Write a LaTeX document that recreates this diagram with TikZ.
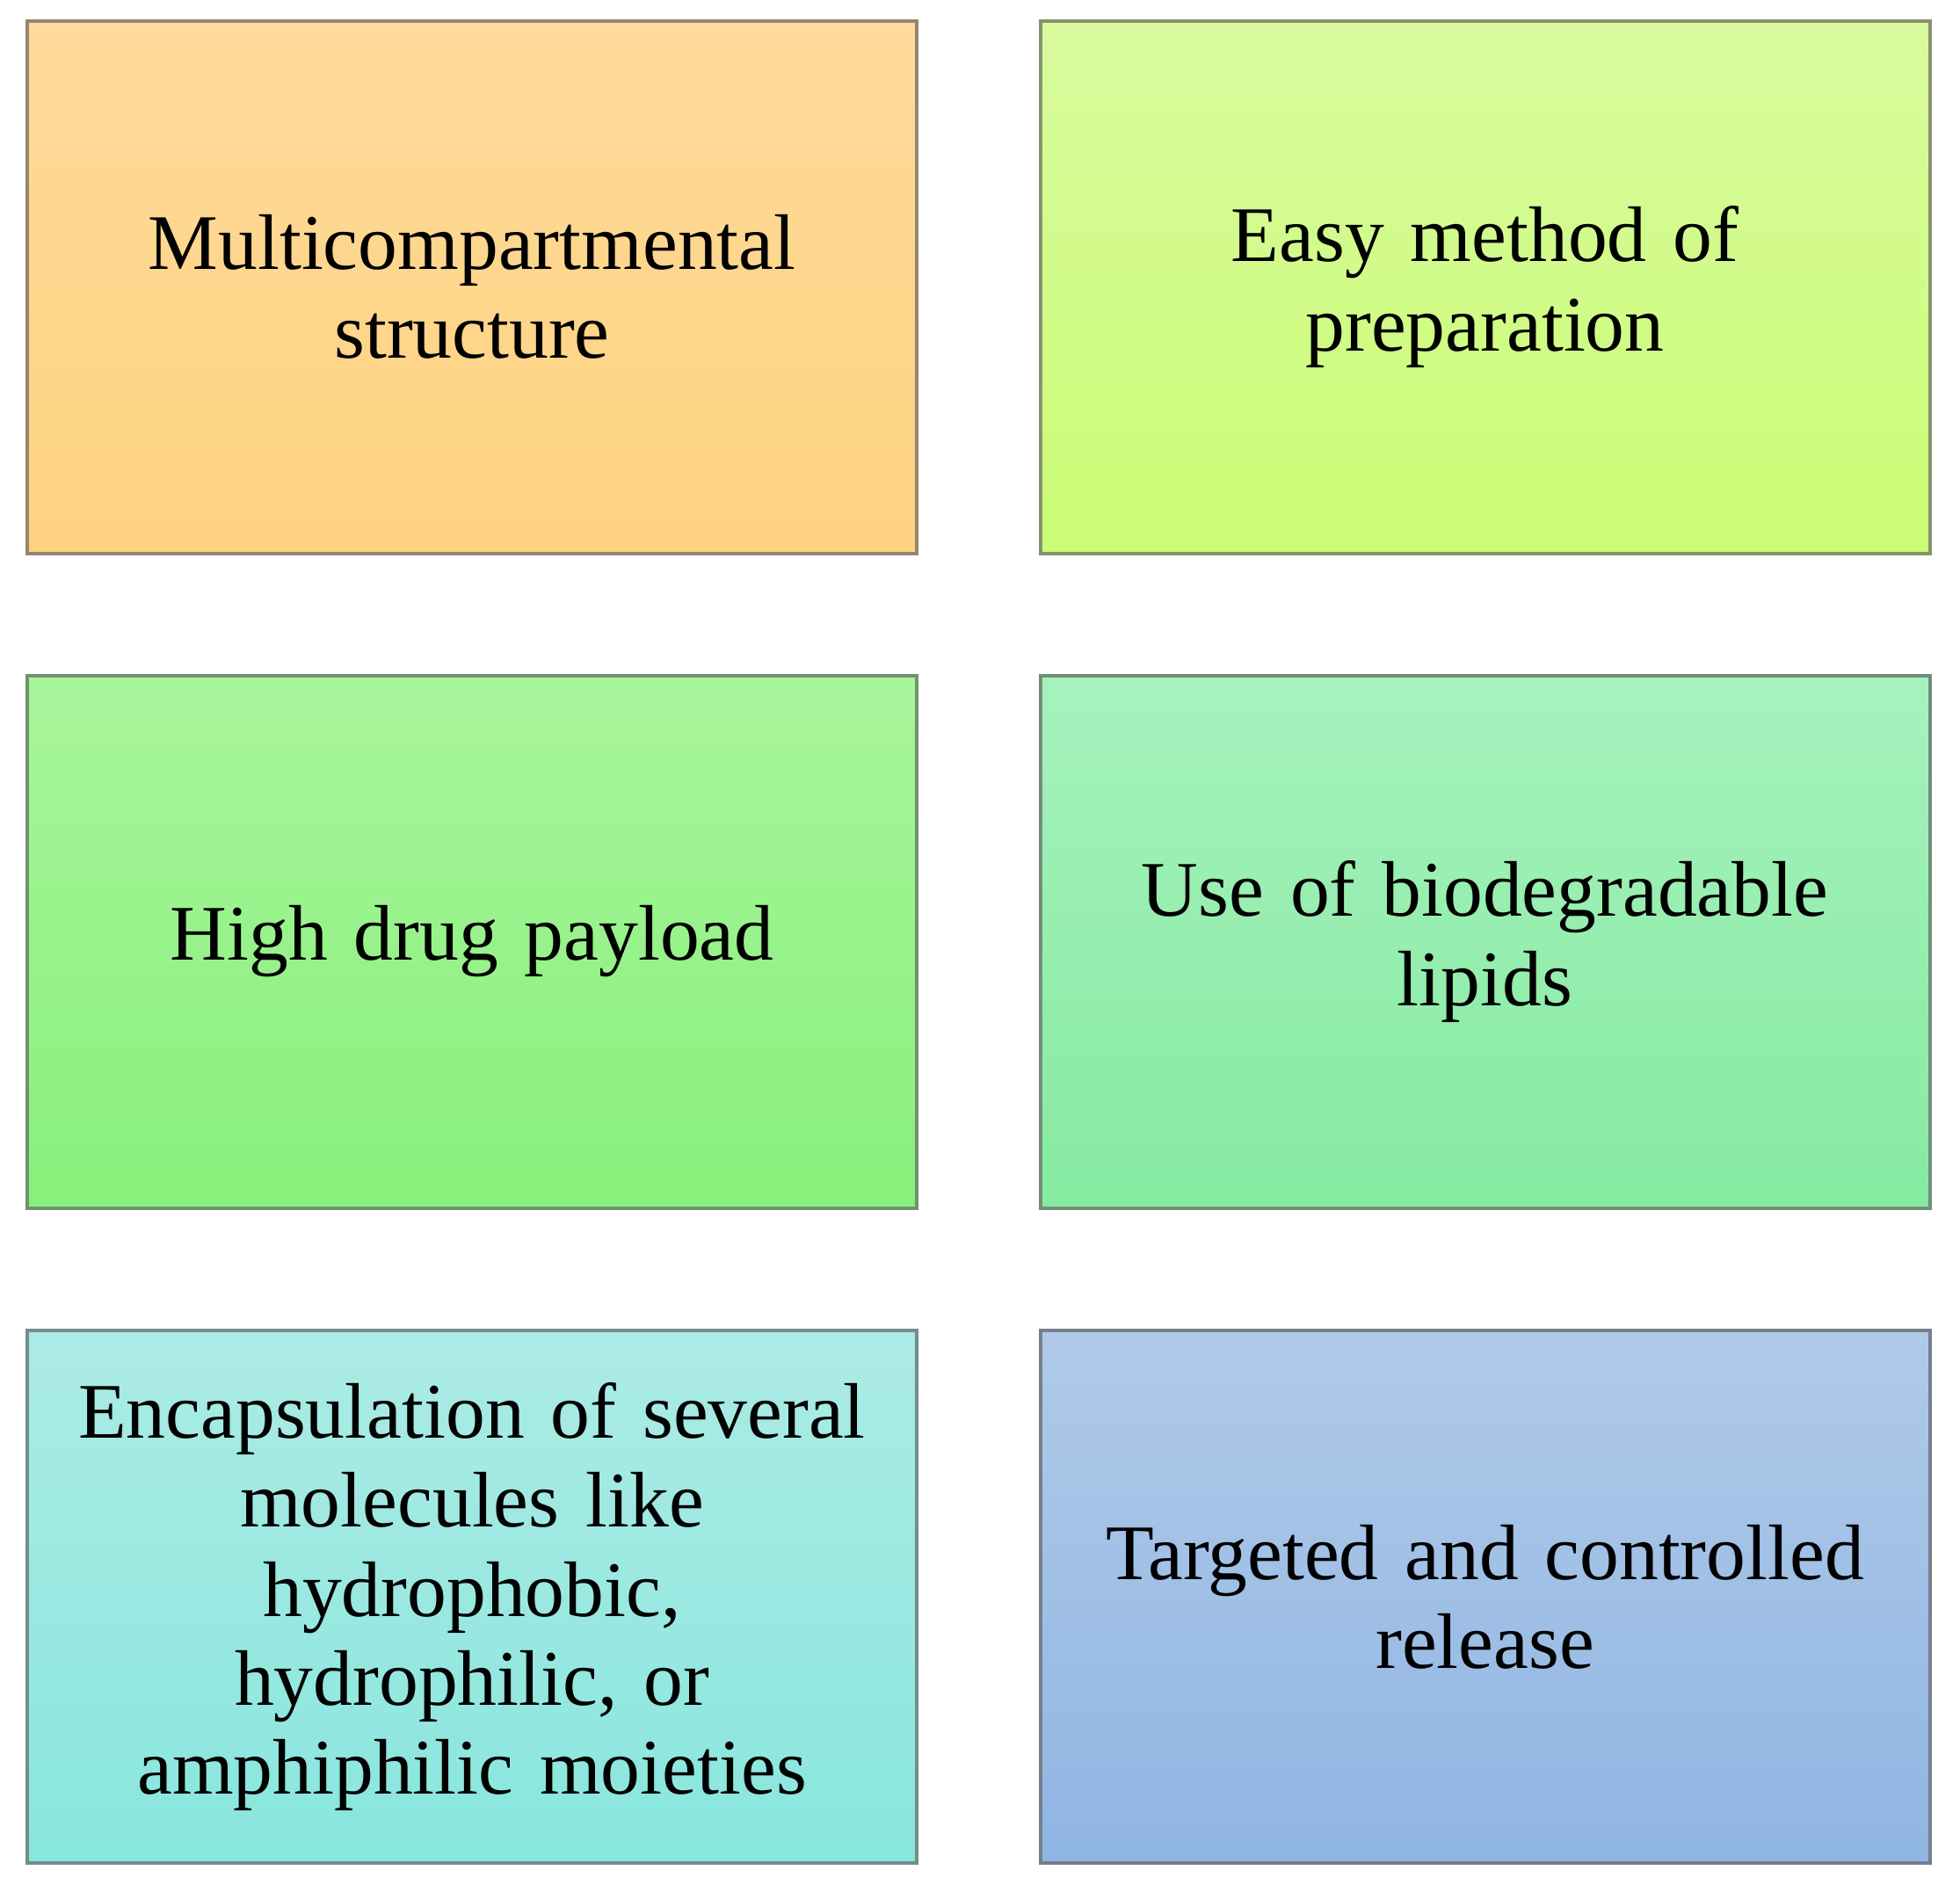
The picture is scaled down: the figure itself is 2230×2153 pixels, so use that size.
\documentclass[tikz,border=0pt]{standalone}
\usepackage{fontspec}
\setmainfont{Liberation Serif}
\definecolor{c1t}{HTML}{FEDA9B}\definecolor{c1b}{HTML}{FED27F}
\definecolor{c2t}{HTML}{D8FB9E}\definecolor{c2b}{HTML}{CAFC74}
\definecolor{c3t}{HTML}{A8F59C}\definecolor{c3b}{HTML}{88F07A}
\definecolor{c4t}{HTML}{A6F2BE}\definecolor{c4b}{HTML}{86EAA0}
\definecolor{c5t}{HTML}{ACEBE5}\definecolor{c5b}{HTML}{88E6DD}
\definecolor{c6t}{HTML}{B0CAE8}\definecolor{c6b}{HTML}{8FB5E3}
\tikzset{
  card/.style={rectangle, minimum width=253pt, minimum height=151.5pt,
    line width=1pt, text width=245pt, align=center, inner sep=0pt,
    font=\fontsize{22.4}{25.3}\selectfont},
  cardA/.style={card, draw=c1b!40!black!70, top color=c1t, bottom color=c1b},
  cardB/.style={card, draw=c2b!40!black!70, top color=c2t, bottom color=c2b},
  cardC/.style={card, draw=c3b!40!black!70, top color=c3t, bottom color=c3b},
  cardD/.style={card, draw=c4b!40!black!70, top color=c4t, bottom color=c4b},
  cardE/.style={card, draw=c5b!40!black!70, top color=c5t, bottom color=c5b},
  cardF/.style={card, draw=c6b!40!black!70, top color=c6t, bottom color=c6b},
}
\begin{document}
\begin{tikzpicture}[x=0.25pt, y=-0.25pt]
\useasboundingbox (0,0) rectangle (2230,2153);
\node[cardA] (n1) at (537,326.5) {Multicompartmental\\structure};
\node[cardB] (n2) at (1689.5,326.5) {Easy method of\\preparation};
\node[cardC] (n3) at (537,1071.5) {High drug payload};
\node[cardD] (n4) at (1689.5,1071.5) {Use of biodegradable\\lipids};
\node[cardE] (n5) at (537,1817) {Encapsulation of several\\molecules like\\hydrophobic,\\hydrophilic, or\\amphiphilic moieties};
\node[cardF] (n6) at (1689.5,1817) {Targeted and controlled\\release};
\end{tikzpicture}
\end{document}
